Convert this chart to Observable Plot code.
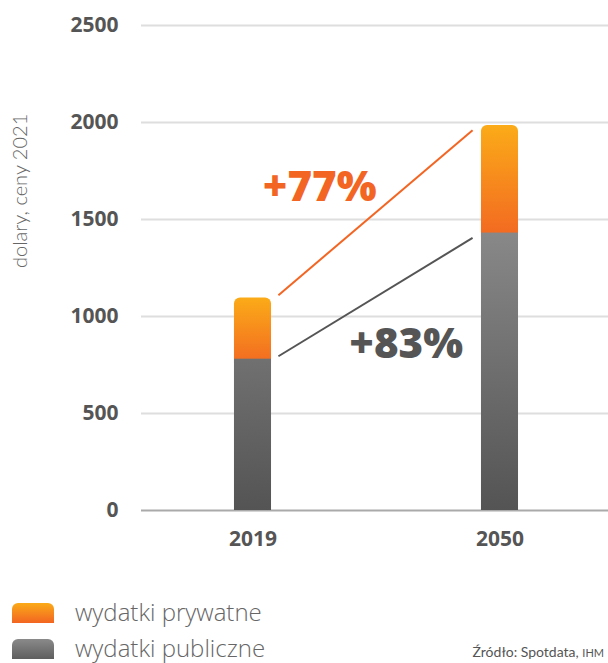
<!DOCTYPE html>
<html>
<head>
<meta charset="utf-8">
<script src="https://cdn.jsdelivr.net/npm/d3@7"></script>
<script src="https://cdn.jsdelivr.net/npm/@observablehq/plot@0.6"></script>
<style>
  html, body { margin: 0; padding: 0; background: #fff; }
  #wrap { position: relative; width: 608px; height: 663px; overflow: hidden; font-family: "Open Sans", sans-serif; }
  .leg { position: absolute; left: 12px; display: flex; align-items: center; }
  .sw { width: 42px; height: 20px; border-radius: 6px 6px 0 0; margin-right: 21px; }
  .lt { font-size: 24px; font-weight: 300; color: #666; line-height: 1; }
  #src { position: absolute; right: 4px; top: 643px; font-family: Lato, sans-serif; font-size: 14px; font-weight: 400; font-style: normal; color: #555; }
  #src span { font-size: 11px; }
</style>
</head>
<body>
<div id="wrap"></div>
<script>
const years = ["2019", "2050"];
const publicSpend = [780, 1430];
const privateSpend = [315, 555];
const yTicks = [0, 500, 1000, 1500, 2000, 2500];
const yLabel = "dolary, ceny 2021";
const growthLabels = ["+77%", "+83%"];
const growthColors = ["#f26522", "#555555"];
// connector lines: start value near 2019 bar, end value near 2050 bar
const connectorFrom = [1110, 795];
const connectorTo = [1960, 1405];
// label anchor positions (x in bar-index units, y in dollars)
const labelX = [0.27, 0.62];
const labelY = [1667, 856];
const legendLabels = ["wydatki prywatne", "wydatki publiczne"];
const sourceMain = "Źródło: Spotdata, ";
const sourceSmall = "IHM";

const bars = years.map((yr, i) => ({
  i, year: yr, pub: publicSpend[i], priv: privateSpend[i], total: publicSpend[i] + privateSpend[i]
}));
const connectors = connectorFrom.map((v, k) => ({from: v, to: connectorTo[k], color: growthColors[k]}));
const labels = growthLabels.map((t, k) => ({text: t, x: labelX[k], y: labelY[k], color: growthColors[k]}));

const halfBar = 0.075;
const plot = Plot.plot({
  width: 608,
  height: 560,
  marginLeft: 141,
  marginRight: 0,
  marginTop: 25,
  marginBottom: 50,
  style: {fontFamily: "'Open Sans', sans-serif", background: "transparent", overflow: "visible"},
  x: {domain: [-0.4514, 1.4393], axis: null},
  y: {domain: [0, 2500], axis: null},
  marks: [
    Plot.gridY(yTicks.filter(d => d > 0), {stroke: "#dedede", strokeOpacity: 1, strokeWidth: 2}),
    Plot.ruleY([0], {stroke: "#aaaaaa", strokeWidth: 2}),
    Plot.axisY({ticks: yTicks, tickFormat: d => String(d), tickSize: 0, tickPadding: 23, fontSize: 21, fontWeight: 700, fill: "#555", label: null}),
    Plot.axisX({ticks: [0, 1], tickFormat: i => years[i], tickSize: 0, tickPadding: 21, fontSize: 21, fontWeight: 700, fill: "#555", label: null}),
    Plot.text([yLabel], {frameAnchor: "left", dx: -121, rotate: -90, fontSize: 20, fontWeight: 300, fontStyle: "normal", fontFamily: "Lato, sans-serif", fill: "#666", text: d => d}),
    Plot.rectY(bars, {x1: d => d.i - halfBar, x2: d => d.i + halfBar, y1: "pub", y2: "total", fill: "url(#gradOrange)", rx: 6, insetBottom: -10}),
    Plot.rectY(bars, {x1: d => d.i - halfBar, x2: d => d.i + halfBar, y1: 0, y2: "pub", fill: "url(#gradGray)"}),
    Plot.link(connectors, {x1: 0.103, x2: 0.889, y1: "from", y2: "to", stroke: "color", strokeWidth: 2}),
    Plot.text(labels, {x: "x", y: "y", text: "text", fill: "color", fontSize: 42, fontWeight: 800, lineAnchor: "middle"})
  ]
});

const y = plot.scale("y");
const svg = d3.select(plot);
const defs = svg.insert("defs", ":first-child");
const go = defs.append("linearGradient").attr("id", "gradOrange").attr("x1", 0).attr("x2", 0).attr("y1", 0).attr("y2", 1);
go.append("stop").attr("offset", "0%").attr("stop-color", "#fbab18");
go.append("stop").attr("offset", "100%").attr("stop-color", "#f26522");
const gg = defs.append("linearGradient").attr("id", "gradGray").attr("gradientUnits", "userSpaceOnUse")
  .attr("x1", 0).attr("x2", 0).attr("y1", y.apply(d3.max(publicSpend))).attr("y2", y.apply(0));
gg.append("stop").attr("offset", "0%").attr("stop-color", "#888888");
gg.append("stop").attr("offset", "100%").attr("stop-color", "#545454");

const wrap = document.getElementById("wrap");
wrap.appendChild(plot);

const swatches = ["linear-gradient(#fbab18, #f26522)", "linear-gradient(#8a8a8a, #5e5e5e)"];
const tops = [602, 638];
legendLabels.forEach((t, k) => {
  const row = document.createElement("div");
  row.className = "leg";
  row.style.top = tops[k] + "px";
  const sw = document.createElement("div");
  sw.className = "sw";
  sw.style.background = swatches[k];
  const lt = document.createElement("div");
  lt.className = "lt";
  lt.textContent = t;
  lt.style.marginTop = "-2px";
  row.appendChild(sw);
  row.appendChild(lt);
  wrap.appendChild(row);
});
const src = document.createElement("div");
src.id = "src";
src.textContent = sourceMain;
const sm = document.createElement("span");
sm.textContent = sourceSmall;
src.appendChild(sm);
wrap.appendChild(src);
</script>
</body>
</html>
